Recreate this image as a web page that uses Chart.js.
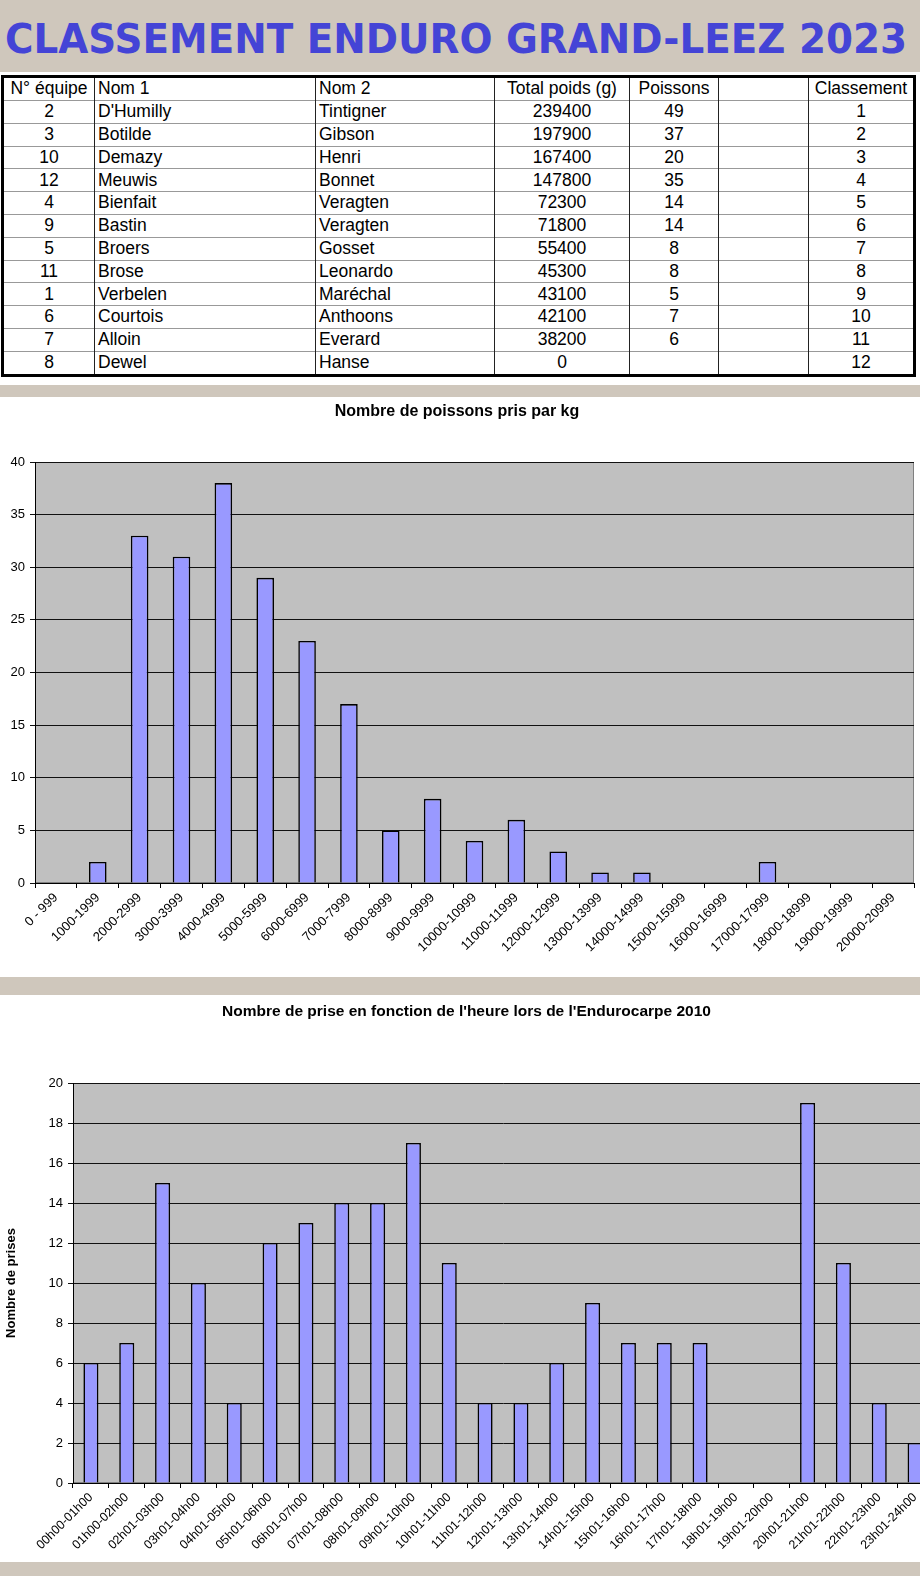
<!DOCTYPE html>
<html>
<head>
<meta charset="utf-8">
<script src="https://cdn.jsdelivr.net/npm/chart.js@4.4.1/dist/chart.umd.min.js"></script>
<style>
  html, body { margin: 0; padding: 0; width: 920px; height: 1576px; overflow: hidden; background: #fff; }
  body { position: relative; font-family: "Liberation Sans", Arial, sans-serif; }
  .band { position: absolute; left: 0; width: 920px; background: #cfc7bc; }
  #mainTitle {
    position: absolute; left: 5px; top: 15px; line-height: 48px; white-space: nowrap;
    font-family: "DejaVu Sans", sans-serif; font-weight: bold; font-size: 41px; color: #4444d6;
    transform-origin: 0 0;
  }
  #results {
    position: absolute; left: 1px; top: 75px; width: 915px; height: 302px;
    border-collapse: collapse; table-layout: fixed; border: 3px solid #000;
    font-size: 17.5px; color: #000;
  }
  #results td { padding: 0 3px; border-left: 1px solid #222; border-top: 1px solid #999; white-space: nowrap; overflow: hidden; line-height: 1; }
  canvas { position: absolute; left: 0; }
</style>
</head>
<body>
<div class="band" style="top:0;height:72px"></div>
<div id="mainTitle">CLASSEMENT ENDURO GRAND-LEEZ 2023</div>
<table id="results"></table>
<div class="band" style="top:385px;height:12px"></div>
<canvas id="chart-poids" width="920" height="579" style="top:398px"></canvas>
<div class="band" style="top:977px;height:18px"></div>
<canvas id="chart-heure" width="940" height="567" style="top:995px"></canvas>
<div class="band" style="top:1562px;height:14px"></div>
<script>
// Table data
const tableHeaders = ['N° équipe', 'Nom 1', 'Nom 2', 'Total poids (g)', 'Poissons', '', 'Classement'];
const equipeNo = [2, 3, 10, 12, 4, 9, 5, 11, 1, 6, 7, 8];
const nom1 = ["D'Humilly", 'Botilde', 'Demazy', 'Meuwis', 'Bienfait', 'Bastin', 'Broers', 'Brose', 'Verbelen', 'Courtois', 'Alloin', 'Dewel'];
const nom2 = ['Tintigner', 'Gibson', 'Henri', 'Bonnet', 'Veragten', 'Veragten', 'Gosset', 'Leonardo', 'Maréchal', 'Anthoons', 'Everard', 'Hanse'];
const totalPoids = [239400, 197900, 167400, 147800, 72300, 71800, 55400, 45300, 43100, 42100, 38200, 0];
const poissons = [49, 37, 20, 35, 14, 14, 8, 8, 5, 7, 6, ''];
const classement = [1, 2, 3, 4, 5, 6, 7, 8, 9, 10, 11, 12];

// Chart 1: fish count by weight class
const poidsLabels = ['0 - 999', '1000-1999', '2000-2999', '3000-3999', '4000-4999', '5000-5999', '6000-6999', '7000-7999', '8000-8999', '9000-9999', '10000-10999', '11000-11999', '12000-12999', '13000-13999', '14000-14999', '15000-15999', '16000-16999', '17000-17999', '18000-18999', '19000-19999', '20000-20999'];
const poidsCounts = [0, 2, 33, 31, 38, 29, 23, 17, 5, 8, 4, 6, 3, 1, 1, 0, 0, 2, 0, 0, 0];

// Chart 2: catches by hour
const heureLabels = ['00h00-01h00', '01h00-02h00', '02h01-03h00', '03h01-04h00', '04h01-05h00', '05h01-06h00', '06h01-07h00', '07h01-08h00', '08h01-09h00', '09h01-10h00', '10h01-11h00', '11h01-12h00', '12h01-13h00', '13h01-14h00', '14h01-15h00', '15h01-16h00', '16h01-17h00', '17h01-18h00', '18h01-19h00', '19h01-20h00', '20h01-21h00', '21h01-22h00', '22h01-23h00', '23h01-24h00'];
const heureCounts = [6, 7, 15, 10, 4, 12, 13, 14, 14, 17, 11, 4, 4, 6, 9, 7, 7, 7, 0, 0, 19, 11, 4, 2];

// fit main title to its width
const titleEl = document.getElementById('mainTitle');
const mctx = document.createElement('canvas').getContext('2d');
mctx.font = 'bold 41px "DejaVu Sans"';
titleEl.style.transform = 'scaleX(' + (902 / mctx.measureText(titleEl.textContent).width) + ')';

// build table
const colWidths = [92, 221, 179, 135, 89, 90, 106];
const colAlign = ['center', 'left', 'left', 'center', 'center', 'center', 'center'];
const table = document.getElementById('results');
const cg = document.createElement('colgroup');
colWidths.forEach(w => { const c = document.createElement('col'); c.style.width = w + 'px'; cg.appendChild(c); });
table.appendChild(cg);
function addRow(cells, header) {
  const tr = document.createElement('tr');
  cells.forEach((v, i) => {
    const td = document.createElement('td');
    td.textContent = v;
    td.style.textAlign = header ? 'center' : colAlign[i];
    if (header && i > 0 && i < 3) td.style.textAlign = 'left';
    tr.appendChild(td);
  });
  table.appendChild(tr);
}
addRow(tableHeaders, true);
equipeNo.forEach((n, i) => addRow([n, nom1[i], nom2[i], totalPoids[i], poissons[i], '', classement[i]], false));

// grey plot area like the old Excel charts
const plotBg = {
  id: 'plotBg',
  beforeDraw(chart) {
    const a = chart.chartArea, ctx = chart.ctx;
    ctx.save();
    ctx.fillStyle = '#c0c0c0';
    ctx.fillRect(a.left, a.top, a.right - a.left, a.bottom - a.top);
    ctx.strokeStyle = '#808080';
    ctx.lineWidth = 1;
    ctx.strokeRect(a.left + 0.5, a.top + 0.5, a.right - a.left - 1, a.bottom - a.top - 1);
    ctx.restore();
  }
};

function makeChart(id, labels, values, o) {
  return new Chart(document.getElementById(id), {
    type: 'bar',
    data: {
      labels: labels,
      datasets: [{
        data: values,
        backgroundColor: '#9999ff',
        borderColor: '#000',
        borderWidth: 1.6,
        barPercentage: 0.42,
        categoryPercentage: 1
      }]
    },
    options: {
      responsive: false,
      animation: false,
      layout: { padding: { right: o.padRight, left: 0, bottom: 0 } },
      plugins: {
        legend: { display: false },
        tooltip: { enabled: false },
        title: {
          display: true,
          text: o.title,
          color: '#000',
          font: { family: 'Liberation Sans', size: o.titleSize, weight: 'bold' },
          padding: { top: o.titleTop, bottom: o.titleBottom }
        }
      },
      scales: {
        x: {
          grid: { drawOnChartArea: false, color: '#000', tickLength: 5 },
          border: { color: '#000' },
          ticks: { autoSkip: false, minRotation: 45, maxRotation: 45, color: '#000', padding: 2, font: { family: 'Liberation Sans', size: o.xFont } },
          afterFit: s => { s.height = o.xHeight; }
        },
        y: {
          min: 0,
          max: o.yMax,
          grid: { color: '#111', tickLength: 5 },
          border: { color: '#000' },
          ticks: { stepSize: o.yStep, color: '#000', padding: 5, font: { family: 'Liberation Sans', size: o.yFont } },
          title: o.yTitle ? { display: true, text: o.yTitle, color: '#000', font: { family: 'Liberation Sans', size: 13, weight: 'bold' }, padding: { top: 4, bottom: 0 } } : { display: false },
          afterFit: s => { s.width = o.yWidth; }
        }
      }
    },
    plugins: [plotBg]
  });
}

makeChart('chart-poids', poidsLabels, poidsCounts, {
  title: 'Nombre de poissons pris par kg', titleSize: 16, titleTop: 4.4, titleBottom: 40.4,
  yMax: 40, yStep: 5, yWidth: 35, xHeight: 94, padRight: 6, xFont: 13, yFont: 13
});
makeChart('chart-heure', heureLabels, heureCounts, {
  title: "Nombre de prise en fonction de l'heure lors de l'Endurocarpe 2010", titleSize: 15.5, titleTop: 7.2, titleBottom: 62.2,
  yMax: 20, yStep: 2, yWidth: 73, xHeight: 79, padRight: 7, xFont: 12.5, yFont: 13, yTitle: 'Nombre de prises'
});
</script>
</body>
</html>
